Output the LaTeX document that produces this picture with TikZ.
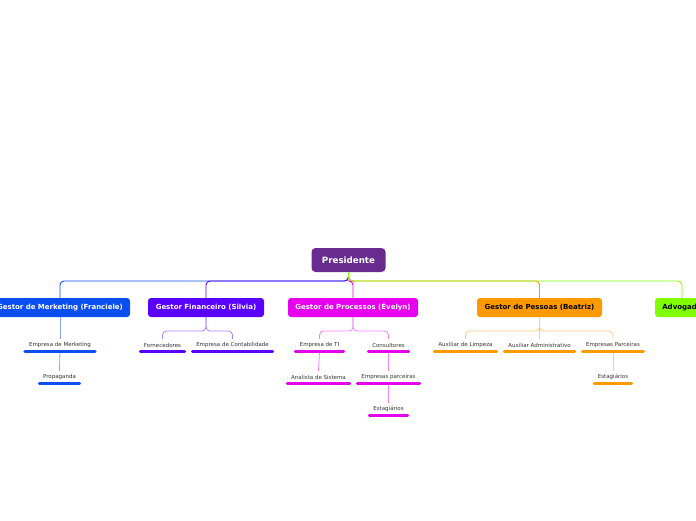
\documentclass[tikz,border=0pt]{standalone}
\usepackage{fontspec}
\setmainfont{DejaVu Sans}
\definecolor{cpres}{HTML}{682C91}
\definecolor{cmk}{HTML}{0B4FF0}
\definecolor{cfin}{HTML}{5A00FF}
\definecolor{cproc}{HTML}{E600EE}
\definecolor{cpes}{HTML}{FF9900}
\definecolor{cadv}{HTML}{80FF00}
\definecolor{ctxt}{HTML}{333333}
\begin{document}
\begin{tikzpicture}[x=1pt,y=-1pt,
  topic/.style={draw=none,fill=#1,rounded corners=3pt,minimum height=19pt,inner sep=0pt,
    font=\fontsize{7}{8}\selectfont\bfseries},
  sub/.style={minimum height=12pt,inner sep=0pt,text=ctxt,font=\fontsize{5.5}{6}\selectfont},
  bar/.style={draw=#1,line width=3pt,line cap=round},
  conn/.style={draw=#1,line width=0.9pt,rounded corners=4pt},
  subconn/.style={draw=#1,line width=0.8pt,rounded corners=4pt}
]
\useasboundingbox (0,0) rectangle (696,520);
% central
\node[topic=cpres,minimum width=74pt,minimum height=24pt,text=white,font=\fontsize{8.7}{10}\selectfont\bfseries,rounded corners=4pt] (pres) at (348.5,260) {Presidente};
% main topics
\node[topic=cmk,minimum width=140pt,text=white] (mk) at (60,307.5) {Gestor de Merketing (Franciele)};
\node[topic=cfin,minimum width=116pt,text=white] (fin) at (206,307.5) {Gestor Financeiro (Silvia)};
\node[topic=cproc,minimum width=130pt,text=white] (proc) at (353,307.5) {Gestor de Processos (Évelyn)};
\node[topic=cpes,minimum width=125pt,text=black] (pes) at (539.5,307.5) {Gestor de Pessoas (Beatriz)};
\node[topic=cadv,minimum width=54pt,text=black] (adv) at (682,307.5) {Advogado};
\coordinate (hub) at (348.5,281);
\draw[conn=cmk] (pres.south) -- (hub) -| (mk.north);
\draw[conn=cfin] (pres.south) -- (hub) -| (fin.north);
\draw[conn=cproc] (pres.south) -- (hub) -| (proc.north);
\draw[conn=cpes] (pres.south) -- (hub) -| (pes.north);
\draw[conn=cadv] (pres.south) -- (hub) -| (adv.north);
% Merketing
\node[sub,minimum width=70pt] (empmk) at (60,345) {Empresa de Merketing};
\node[sub,minimum width=40pt] (prop) at (59.5,377) {Propaganda};
\draw[subconn=cmk!50] (mk.south) -- (empmk.north);
\draw[subconn=cmk!50] (empmk.south) -- (prop.north);
\draw[bar=cmk] (empmk.south west) -- (empmk.south east);
\draw[bar=cmk] (prop.south west) -- (prop.south east);
% Financeiro
\node[sub,minimum width=44pt] (forn) at (162.5,345) {Fornecedores};
\node[sub,minimum width=80pt] (cont) at (232.5,345) {Empresa de Contabilidade};
\coordinate (finhub) at (206,331);
\draw[subconn=cfin!50] (fin.south) -- (finhub) -| (forn.north);
\draw[subconn=cfin!50] (fin.south) -- (finhub) -| (cont.north);
\draw[bar=cfin] (forn.south west) -- (forn.south east);
\draw[bar=cfin] (cont.south west) -- (cont.south east);
% Processos
\node[sub,minimum width=48pt] (ti) at (319.5,345) {Empresa de TI};
\node[sub,minimum width=40pt] (cons) at (388.5,345) {Consultores};
\node[sub,minimum width=62pt] (anal) at (318.5,377) {Analista de Sistema};
\node[sub,minimum width=62pt] (parc) at (388.5,377) {Empresas parceiras};
\node[sub,minimum width=38pt] (est1) at (388.5,409) {Estagiários};
\coordinate (prochub) at (353,331);
\draw[subconn=cproc!50] (proc.south) -- (prochub) -| (ti.north);
\draw[subconn=cproc!50] (proc.south) -- (prochub) -| (cons.north);
\draw[subconn=cproc!50] (ti.south) -- (anal.north);
\draw[subconn=cproc!50] (cons.south) -- (parc.north);
\draw[subconn=cproc!50] (parc.south) -- (est1.north);
\draw[bar=cproc] (ti.south west) -- (ti.south east);
\draw[bar=cproc] (cons.south west) -- (cons.south east);
\draw[bar=cproc] (anal.south west) -- (anal.south east);
\draw[bar=cproc] (parc.south west) -- (parc.south east);
\draw[bar=cproc] (est1.south west) -- (est1.south east);
% Pessoas
\node[sub,minimum width=62pt] (limp) at (465.5,345) {Auxiliar de Limpeza};
\node[sub,minimum width=70pt] (adm) at (539.5,345) {Auxiliar Administrativo};
\node[sub,minimum width=61pt] (pparc) at (613,345) {Empresas Parceiras};
\node[sub,minimum width=37pt] (est2) at (613,377) {Estagiários};
\coordinate (peshub) at (539.5,331);
\draw[subconn=cpes!50] (pes.south) -- (peshub) -| (limp.north);
\draw[subconn=cpes!50] (pes.south) -- (adm.north);
\draw[subconn=cpes!50] (pes.south) -- (peshub) -| (pparc.north);
\draw[subconn=cpes!50] (pparc.south) -- (est2.north);
\draw[bar=cpes] (limp.south west) -- (limp.south east);
\draw[bar=cpes] (adm.south west) -- (adm.south east);
\draw[bar=cpes] (pparc.south west) -- (pparc.south east);
\draw[bar=cpes] (est2.south west) -- (est2.south east);
\end{tikzpicture}
\end{document}
